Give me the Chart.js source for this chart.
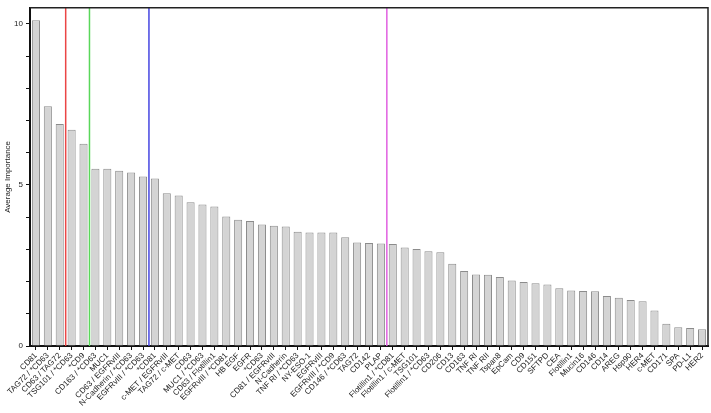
<!DOCTYPE html>
<html>
<head>
<meta charset="utf-8">
<script src="https://cdn.jsdelivr.net/npm/chart.js@4/dist/chart.umd.min.js"></script>
<style>
  html, body { margin: 0; padding: 0; background: #fff; }
  #wrap { width: 711px; height: 413px; }
</style>
</head>
<body>
<div id="wrap"><canvas id="mycanvas" width="711" height="413"></canvas></div>
<script>
var markers = ['CD81', 'TAG72 / *CD63', 'CD63 / TAG72', 'TSG101 / *CD63', '*CD9', 'CD163 / *CD63',
  'MUC1', 'CD63 / EGFRvIII', 'N-Cadherin / *CD63', 'EGFRvIII / *CD63', '*CD81', 'c-MET / EGFRvIII',
  'TAG72 / c-MET', 'CD63', 'MUC1 / *CD63', 'CD63 / Flotillin1', 'EGFRvIII / *CD81', 'HB EGF', 'EGFR',
  '*CD63', 'CD81 / EGFRvIII', 'N-Cadherin', 'TNF RI / *CD63', 'NY-ESO-1', 'EGFRvIII', 'EGFRvIII / *CD9',
  'CD146 / *CD63', 'TAG72', 'CD142', 'PLAP', 'Flotillin1 / *CD81', 'Flotillin1 / c-MET', 'TSG101',
  'Flotillin1 / *CD63', 'CD206', 'CD13', 'CD163', 'TNF RI', 'TNF RII', 'Tspan8', 'EpCam', 'CD9',
  'CD151', 'SFTPD', 'CEA', 'Flotillin1', 'Mucin16', 'CD146', 'CD14', 'AREG', 'Hsp90', 'HER4',
  'c-MET', 'CD171', 'SPA', 'PD-L1', 'HER2'];

var importance = [10.11, 7.44, 6.89, 6.71, 6.28, 5.50, 5.50, 5.44, 5.39, 5.26, 5.20, 4.74,
  4.67, 4.46, 4.39, 4.33, 4.02, 3.92, 3.88, 3.77, 3.73, 3.71, 3.55, 3.52, 3.52, 3.52,
  3.38, 3.21, 3.20, 3.18, 3.17, 3.06, 3.01, 2.94, 2.91, 2.55, 2.33, 2.22, 2.21, 2.14,
  2.03, 1.99, 1.95, 1.91, 1.79, 1.72, 1.71, 1.70, 1.55, 1.50, 1.43, 1.39, 1.10, 0.69,
  0.58, 0.56, 0.52];

// vertical cut lines sit after these bar counts
var splitAfter = [3, 5, 10, 30];
var splitColors = ['rgb(235,70,70)', 'rgb(90,215,90)', 'rgb(70,70,225)', 'rgb(225,95,225)'];

var fontFamily = 'Arial, "Liberation Sans", Helvetica, sans-serif';

var frameAndLines = {
  id: 'frameAndLines',
  afterDatasetsDraw: function (chart) {
    var ctx = chart.ctx;
    var area = chart.chartArea;
    var x = chart.scales.x;
    ctx.save();
    for (var i = 0; i < splitAfter.length; i++) {
      var px = (x.getPixelForValue(splitAfter[i] - 1) + x.getPixelForValue(splitAfter[i])) / 2;
      ctx.strokeStyle = splitColors[i];
      ctx.lineWidth = 1.5;
      ctx.beginPath();
      ctx.moveTo(px, area.top);
      ctx.lineTo(px, area.bottom);
      ctx.stroke();
    }
    ctx.strokeStyle = '#222';
    ctx.lineWidth = 1.5;
    ctx.beginPath();
    ctx.moveTo(area.left, area.top);
    ctx.lineTo(area.right, area.top);
    ctx.lineTo(area.right, area.bottom);
    ctx.stroke();
    ctx.restore();
  }
};

var ctx = document.getElementById('mycanvas').getContext('2d');
var myChart = new Chart(ctx, {
  type: 'bar',
  data: {
    labels: markers,
    datasets: [{
      label: 'Average Importance',
      data: importance,
      backgroundColor: 'rgb(212,212,212)',
      borderColor: 'rgb(140,140,140)',
      borderWidth: 1,
      barPercentage: 0.68,
      categoryPercentage: 1
    }]
  },
  options: {
    responsive: false,
    animation: false,
    layout: { padding: { top: 6, right: 3, bottom: 0, left: 0 } },
    plugins: {
      legend: { display: false },
      tooltip: { enabled: false }
    },
    scales: {
      x: {
        offset: true,
        afterFit: function (scale) { scale.height = 67; },
        grid: { drawOnChartArea: false, tickLength: 4, tickColor: '#111', offset: false },
        border: { color: '#111', width: 2 },
        ticks: {
          autoSkip: false,
          minRotation: 45,
          maxRotation: 45,
          padding: 1,
          color: '#222',
          font: { family: fontFamily, size: 8 }
        }
      },
      y: {
        min: 0,
        max: 10.5,
        afterFit: function (scale) { scale.width = 30; },
        afterBuildTicks: function (scale) {
          scale.ticks = scale.ticks.filter(function (t) { return Number.isInteger(t.value); });
        },
        grid: { drawOnChartArea: false, tickLength: 4, tickColor: '#111' },
        border: { color: '#111', width: 2 },
        title: {
          display: true,
          text: 'Average Importance',
          color: '#222',
          padding: { top: 3, bottom: 3 },
          font: { family: fontFamily, size: 8 }
        },
        ticks: {
          stepSize: 1,
          padding: 3,
          color: '#222',
          font: { family: fontFamily, size: 8 },
          callback: function (v) { return v % 5 === 0 ? v : ''; }
        }
      }
    }
  },
  plugins: [frameAndLines]
});
</script>
</body>
</html>
